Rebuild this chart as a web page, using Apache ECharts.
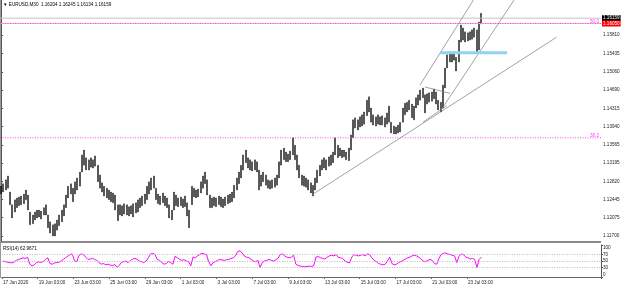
<!DOCTYPE html>
<html>
<head>
<meta charset="utf-8">
<script src="https://cdn.jsdelivr.net/npm/echarts@6/dist/echarts.min.js"></script>
<style>
html, body { margin: 0; padding: 0; background: #fff; }
#chart { width: 625px; height: 288px; }
</style>
</head>
<body>
<div id="chart"></div>
<script>
/* EURUSD M30, one column = 6 bars (3 hours) */
var highs = [
    1.1272, 1.1277, 1.1285, 1.1293, 1.1260, 1.1234, 1.1244, 1.1248, 1.1250, 1.1252,
    1.1256, 1.1264, 1.1254, 1.1219, 1.1213, 1.1219, 1.1223, 1.1223, 1.1221, 1.1228,
    1.1234, 1.1213, 1.1199, 1.1193, 1.1195, 1.1203, 1.1213, 1.1223, 1.1234, 1.1254,
    1.1272, 1.1277, 1.1268, 1.1281, 1.1289, 1.1301, 1.1336, 1.1346, 1.1330, 1.1326,
    1.1330, 1.1326, 1.1334, 1.1315, 1.1295, 1.1279, 1.1272, 1.1268, 1.1264, 1.1260,
    1.1258, 1.1254, 1.1234, 1.1234, 1.1232, 1.1236, 1.1234, 1.1230, 1.1232, 1.1236,
    1.1238, 1.1244, 1.1248, 1.1252, 1.1256, 1.1272, 1.1281, 1.1289, 1.1293, 1.1268,
    1.1256, 1.1252, 1.1258, 1.1252, 1.1248, 1.1234, 1.1223, 1.1260, 1.1254, 1.1248,
    1.1250, 1.1246, 1.1252, 1.1238, 1.1223, 1.1272, 1.1268, 1.1264, 1.1266, 1.1281,
    1.1293, 1.1301, 1.1285, 1.1254, 1.1248, 1.1250, 1.1248, 1.1252, 1.1250, 1.1246,
    1.1250, 1.1254, 1.1256, 1.1260, 1.1274, 1.1289, 1.1301, 1.1315, 1.1336, 1.1346,
    1.1330, 1.1326, 1.1322, 1.1326, 1.1322, 1.1305, 1.1295, 1.1301, 1.1295, 1.1285,
    1.1283, 1.1285, 1.1289, 1.1295, 1.1322, 1.1346, 1.1350, 1.1342, 1.1338, 1.1344,
    1.1371, 1.1356, 1.1336, 1.1315, 1.1295, 1.1293, 1.1289, 1.1285, 1.1279, 1.1274,
    1.1289, 1.1305, 1.1315, 1.1326, 1.1330, 1.1326, 1.1332, 1.1336, 1.1342, 1.1371,
    1.1356, 1.1350, 1.1346, 1.1346, 1.1342, 1.1350, 1.1377, 1.1408, 1.1412, 1.1408,
    1.1414, 1.1418, 1.1424, 1.1448, 1.1455, 1.1432, 1.1418, 1.1414, 1.1418, 1.1414,
    1.1416, 1.1412, 1.1422, 1.1436, 1.1403, 1.1395, 1.1393, 1.1397, 1.1403, 1.1432,
    1.1442, 1.1444, 1.1448, 1.1440, 1.1436, 1.1453, 1.1459, 1.1469, 1.1473, 1.1459,
    1.1461, 1.1463, 1.1465, 1.1471, 1.1465, 1.1448, 1.1444, 1.1479, 1.1514, 1.1541,
    1.1547, 1.1543, 1.1547, 1.1536, 1.1571, 1.1602, 1.1596, 1.1588, 1.1586, 1.1588,
    1.1592, 1.1596, 1.1592, 1.1608, 1.1626
];
var lows = [
    1.1256, 1.1260, 1.1264, 1.1268, 1.1234, 1.1207, 1.1219, 1.1228, 1.1232, 1.1234,
    1.1236, 1.1244, 1.1223, 1.1193, 1.1195, 1.1203, 1.1207, 1.1209, 1.1205, 1.1213,
    1.1213, 1.1187, 1.1176, 1.1170, 1.1170, 1.1182, 1.1191, 1.1199, 1.1211, 1.1228,
    1.1248, 1.1256, 1.1240, 1.1256, 1.1264, 1.1272, 1.1301, 1.1315, 1.1305, 1.1305,
    1.1311, 1.1309, 1.1313, 1.1281, 1.1268, 1.1260, 1.1252, 1.1248, 1.1244, 1.1240,
    1.1238, 1.1223, 1.1201, 1.1213, 1.1211, 1.1215, 1.1213, 1.1211, 1.1215, 1.1209,
    1.1217, 1.1219, 1.1228, 1.1232, 1.1236, 1.1244, 1.1256, 1.1264, 1.1268, 1.1244,
    1.1236, 1.1234, 1.1238, 1.1232, 1.1228, 1.1207, 1.1203, 1.1223, 1.1232, 1.1230,
    1.1232, 1.1228, 1.1230, 1.1211, 1.1187, 1.1234, 1.1250, 1.1248, 1.1250, 1.1258,
    1.1268, 1.1277, 1.1254, 1.1228, 1.1228, 1.1232, 1.1230, 1.1234, 1.1230, 1.1228,
    1.1232, 1.1236, 1.1238, 1.1240, 1.1248, 1.1264, 1.1277, 1.1289, 1.1305, 1.1320,
    1.1309, 1.1305, 1.1303, 1.1305, 1.1301, 1.1264, 1.1272, 1.1281, 1.1274, 1.1268,
    1.1266, 1.1268, 1.1270, 1.1274, 1.1289, 1.1315, 1.1326, 1.1322, 1.1322, 1.1326,
    1.1336, 1.1326, 1.1305, 1.1289, 1.1274, 1.1272, 1.1270, 1.1264, 1.1258, 1.1252,
    1.1264, 1.1279, 1.1293, 1.1305, 1.1309, 1.1305, 1.1313, 1.1315, 1.1320, 1.1336,
    1.1330, 1.1334, 1.1330, 1.1332, 1.1326, 1.1324, 1.1346, 1.1371, 1.1391, 1.1387,
    1.1393, 1.1395, 1.1399, 1.1416, 1.1424, 1.1403, 1.1397, 1.1395, 1.1399, 1.1397,
    1.1397, 1.1393, 1.1399, 1.1403, 1.1381, 1.1379, 1.1379, 1.1381, 1.1383, 1.1403,
    1.1418, 1.1424, 1.1428, 1.1412, 1.1408, 1.1432, 1.1438, 1.1448, 1.1453, 1.1422,
    1.1440, 1.1444, 1.1446, 1.1451, 1.1440, 1.1428, 1.1424, 1.1432, 1.1473, 1.1514,
    1.1526, 1.1526, 1.1530, 1.1508, 1.1526, 1.1567, 1.1571, 1.1567, 1.1569, 1.1571,
    1.1573, 1.1577, 1.1545, 1.1551, 1.1604
];
var rsiValues = [
    50, 48, 46, 45, 44, 47, 52, 55, 57, 60,
    58, 62, 40, 35, 38, 45, 47, 46, 48, 55,
    60, 42, 40, 44, 45, 46, 50, 55, 60, 65,
    70, 72, 50, 48, 68, 72, 70, 62, 55, 56,
    58, 55, 52, 45, 40, 42, 38, 40, 37, 36,
    39, 30, 36, 46, 48, 50, 45, 52, 56, 58,
    55, 50, 48, 45, 50, 60, 72, 74, 70, 55,
    52, 45, 40, 42, 48, 45, 40, 65, 60, 55,
    52, 54, 50, 48, 35, 62, 60, 66, 70, 74,
    72, 70, 48, 35, 45, 48, 52, 55, 53, 52,
    54, 55, 58, 60, 66, 80, 82, 75, 65, 62,
    60, 55, 50, 48, 52, 30, 45, 50, 52, 55,
    52, 50, 54, 58, 70, 72, 66, 62, 60, 62,
    68, 40, 36, 34, 33, 32, 33, 34, 33, 35,
    62, 64, 60, 58, 56, 62, 66, 68, 66, 70,
    62, 60, 58, 50, 46, 44, 62, 70, 68, 66,
    68, 70, 66, 72, 70, 60, 52, 48, 42, 40,
    38, 40, 50, 62, 42, 38, 40, 45, 48, 52,
    56, 60, 62, 66, 68, 66, 62, 56, 50, 48,
    52, 55, 52, 42, 40, 58, 70, 74, 75, 72,
    70, 68, 66, 45, 65, 72, 70, 62, 60, 56,
    58, 55, 30, 55, 62
];
var timeLabels = ['17 Jun 2020', '19 Jun 03:00', '23 Jun 03:00', '25 Jun 03:00', '29 Jun 03:00',
    '1 Jul 03:00', '3 Jul 03:00', '7 Jul 03:00', '9 Jul 03:00', '13 Jul 03:00',
    '15 Jul 03:00', '17 Jul 03:00', '21 Jul 03:00', '23 Jul 03:00'];
var priceTicks = [1.11700, 1.12075, 1.12445, 1.12820, 1.13195, 1.13565,
    1.13940, 1.14315, 1.14690, 1.15060, 1.15435, 1.15810];
var rsiTicks = [0, 30, 50, 70, 100];
var rsiLevels = [30, 50, 70];
var bidPrice = 1.16159;
var hLinePrice = 1.16050;
var fibLevels = [['50.0', 1.16050], ['38.2', 1.13710]];
// drawn objects, [column, price] pairs
var trendLines = [
    [[138.5, 1.1254], [247.7, 1.1577]],
    [[186.8, 1.1479], [210.6, 1.1653]],
    [[196.2, 1.1428], [228.7, 1.1653]],
    [[189.0, 1.1475], [200.2, 1.1462]],
    [[188.1, 1.1403], [198.8, 1.1437]]
];
var zoneLine = [[195.7, 1.1545], [225.6, 1.1545]];

var columnCount = 268;
var labelEvery = 16;
var font = 'Liberation Sans';

var columns = [];
for (var i = 0; i < columnCount; i++) {
    columns.push(i);
}
var candleData = lows.map(function (l, i) {
    return [l, highs[i], l, highs[i]];
});

// horizontal object across the whole window
function hLine(price, style) {
    return {
        type: 'line', xAxisIndex: 2, yAxisIndex: 0, silent: true, symbol: 'none',
        data: [[-0.5, price], [columnCount - 0.5, price]],
        lineStyle: style
    };
}

var objSeries = [
    hLine(bidPrice, {color: '#c4c4c4', width: 1}),
    hLine(hLinePrice, {color: '#ffb3c8', width: 1})
];
fibLevels.forEach(function (f) {
    objSeries.push(hLine(f[1], {color: '#ff40ff', width: 1, type: [1, 1.5]}));
});
trendLines.forEach(function (pts) {
    objSeries.push({
        type: 'line', xAxisIndex: 2, yAxisIndex: 0,
        data: pts, symbol: 'none', silent: true, clip: true,
        lineStyle: {color: '#7a7a7a', width: 0.7}
    });
});
objSeries.push({
    type: 'line', xAxisIndex: 2, yAxisIndex: 0,
    data: zoneLine, symbol: 'none', silent: true,
    lineStyle: {color: '#8fd2f2', width: 3}
});

var myChart = echarts.init(document.getElementById('chart'));

var labelShow = function (idx) {
    return idx % labelEvery === 0 && idx / labelEvery < timeLabels.length;
};

var option = {
    animation: false,
    backgroundColor: '#fff',
    textStyle: {fontFamily: font},
    grid: [
        {left: 0, right: 24, top: 0, height: 241},
        {left: 0, right: 24, top: 245, height: 32}
    ],
    xAxis: [
        {type: 'category', gridIndex: 0, data: columns, boundaryGap: true, show: false},
        {
            type: 'category', gridIndex: 1, data: columns, boundaryGap: true,
            axisLine: {show: true, lineStyle: {color: '#666', width: 1}},
            axisTick: {show: true, length: 2, lineStyle: {color: '#666'}, interval: labelShow},
            axisLabel: {
                show: true, fontSize: 4.6, color: '#222', margin: 3, align: 'left',
                interval: labelShow,
                formatter: function (v, idx) { return timeLabels[idx / labelEvery] || ''; }
            },
            splitLine: {show: false}
        },
        {type: 'value', gridIndex: 0, min: -0.5, max: columnCount - 0.5, show: false}
    ],
    yAxis: [
        {
            type: 'value', gridIndex: 0, position: 'right', min: 1.11598, max: 1.16531, scale: true,
            axisLine: {show: true, lineStyle: {color: '#555', width: 1}},
            axisTick: {show: true, length: 2, customValues: priceTicks, lineStyle: {color: '#555'}},
            axisLabel: {show: true, customValues: priceTicks, fontSize: 4.6, color: '#222', margin: 2,
                formatter: function (v) { return v.toFixed(5); }},
            splitLine: {show: false}
        },
        {
            type: 'value', gridIndex: 1, position: 'right', min: 0, max: 100,
            axisLine: {show: true, lineStyle: {color: '#555', width: 1}},
            axisTick: {show: true, length: 2, customValues: rsiTicks, lineStyle: {color: '#555'}},
            axisLabel: {show: true, customValues: rsiTicks, fontSize: 4.6, color: '#222', margin: 2,
                verticalAlignMaxLabel: 'top', verticalAlignMinLabel: 'bottom'},
            splitLine: {show: false}
        }
    ],
    series: objSeries.concat([
        {
            type: 'candlestick', xAxisIndex: 0, yAxisIndex: 0,
            data: candleData, barWidth: 1.5, silent: true,
            itemStyle: {color: '#000', color0: '#000', borderColor: '#000', borderColor0: '#000', borderWidth: 0.3}
        },
        {
            type: 'line', xAxisIndex: 1, yAxisIndex: 1,
            data: rsiValues, symbol: 'none', silent: true,
            lineStyle: {color: '#ff00ff', width: 1},
            markLine: {
                silent: true, symbol: ['none', 'none'], label: {show: false},
                lineStyle: {color: '#b8b8b8', type: [1, 1.5], width: 1},
                data: rsiLevels.map(function (v) { return {yAxis: v}; })
            }
        }
    ])
};

myChart.setOption(option);

// price tags on the scale and level captions, placed through the price axis
var tagFont = '4.6px ' + font;
var graphics = [
    {type: 'rect', left: 0, top: 241, shape: {width: 601, height: 2}, style: {fill: '#8a8a8a'}},
    {type: 'line', shape: {x1: 0.5, y1: 0, x2: 0.5, y2: 278}, style: {stroke: '#9a9a9a', lineWidth: 1}},
    {type: 'text', x: 3, y: 2, style: {text: '\u25BC EURUSD,M30  1.16204 1.16245 1.16134 1.16159',
        font: tagFont, fill: '#000'}},
    {type: 'text', x: 3, y: 246, style: {text: 'RSI(14) 62.9671', font: tagFont, fill: '#000'}}
];
[[bidPrice, '#000'], [hLinePrice, '#ff0000']].forEach(function (t) {
    var y = myChart.convertToPixel({yAxisIndex: 0}, t[0]);
    graphics.push({type: 'text', x: 602, y: y, style: {text: t[0].toFixed(5), font: tagFont,
        fill: '#fff', backgroundColor: t[1], padding: [1, 1, 0, 1], verticalAlign: 'middle'}});
});
fibLevels.forEach(function (f) {
    var y = myChart.convertToPixel({yAxisIndex: 0}, f[1]);
    graphics.push({type: 'text', x: 599, y: y + 0.5, style: {text: f[0], font: tagFont,
        fill: '#ff40ff', align: 'right', verticalAlign: 'bottom'}});
});
myChart.setOption({graphic: graphics});
</script>
</body>
</html>
